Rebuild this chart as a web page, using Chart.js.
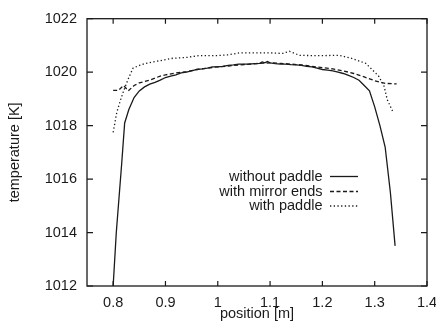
<!DOCTYPE html>
<html>
<head>
<meta charset="utf-8">
<script src="https://cdn.jsdelivr.net/npm/chart.js@4/dist/chart.umd.min.js"></script>
<style>
  html, body { margin: 0; padding: 0; background: #fff; }
  #wrap { width: 436px; height: 323px; position: relative; }
</style>
</head>
<body>
<div id="wrap"><canvas id="c" width="436" height="323"></canvas></div>
<script>
// ---- data ----
const seriesLabels = ["without paddle", "with mirror ends", "with paddle"];

const noPaddleX = [0.800, 0.806, 0.816, 0.822, 0.830, 0.840, 0.850, 0.860, 0.870, 0.880, 0.890, 0.900, 0.910, 0.920, 0.930, 0.940, 0.950, 0.960, 0.970, 0.980, 0.990, 1.000, 1.010, 1.020, 1.030, 1.040, 1.050, 1.060, 1.070, 1.080, 1.085, 1.090, 1.095, 1.100, 1.110, 1.120, 1.130, 1.140, 1.150, 1.160, 1.170, 1.180, 1.190, 1.200, 1.210, 1.220, 1.230, 1.240, 1.250, 1.260, 1.270, 1.280, 1.290, 1.300, 1.310, 1.320, 1.330, 1.339];
const noPaddleY = [1012.0, 1014.0, 1016.5, 1018.1, 1018.6, 1019.05, 1019.3, 1019.45, 1019.55, 1019.62, 1019.7, 1019.8, 1019.85, 1019.9, 1019.97, 1020.0, 1020.05, 1020.1, 1020.12, 1020.15, 1020.2, 1020.2, 1020.22, 1020.25, 1020.27, 1020.3, 1020.3, 1020.3, 1020.32, 1020.33, 1020.38, 1020.35, 1020.4, 1020.35, 1020.32, 1020.3, 1020.3, 1020.28, 1020.27, 1020.25, 1020.22, 1020.2, 1020.15, 1020.1, 1020.08, 1020.05, 1020.0, 1019.95, 1019.88, 1019.8, 1019.7, 1019.5, 1019.3, 1018.7, 1018.0, 1017.2, 1015.5, 1013.5];

const mirrorX = [0.800, 0.810, 0.820, 0.829, 0.840, 0.850, 0.860, 0.870, 0.880, 0.890, 0.900, 0.920, 0.940, 0.960, 0.980, 1.000, 1.020, 1.040, 1.060, 1.080, 1.100, 1.120, 1.140, 1.160, 1.180, 1.200, 1.220, 1.240, 1.260, 1.280, 1.300, 1.320, 1.342];
const mirrorY = [1019.32, 1019.32, 1019.5, 1019.3, 1019.5, 1019.6, 1019.65, 1019.7, 1019.78, 1019.85, 1019.9, 1019.97, 1020.02, 1020.1, 1020.15, 1020.2, 1020.23, 1020.27, 1020.3, 1020.33, 1020.35, 1020.33, 1020.3, 1020.27, 1020.22, 1020.17, 1020.12, 1020.05, 1019.95, 1019.82, 1019.68, 1019.58, 1019.56];

const paddleX = [0.800, 0.807, 0.814, 0.820, 0.830, 0.838, 0.850, 0.860, 0.875, 0.890, 0.914, 0.940, 0.965, 1.000, 1.020, 1.041, 1.070, 1.100, 1.124, 1.137, 1.156, 1.180, 1.200, 1.232, 1.257, 1.283, 1.302, 1.308, 1.318, 1.324, 1.334];
const paddleY = [1017.75, 1018.5, 1018.95, 1019.3, 1019.8, 1020.15, 1020.25, 1020.32, 1020.38, 1020.43, 1020.52, 1020.55, 1020.62, 1020.62, 1020.65, 1020.72, 1020.72, 1020.72, 1020.7, 1020.78, 1020.63, 1020.62, 1020.62, 1020.63, 1020.51, 1020.33, 1019.96, 1019.84, 1019.47, 1018.97, 1018.55];

const xTicks = [0.8, 0.9, 1, 1.1, 1.2, 1.3, 1.4];
const yTicks = [1012, 1014, 1016, 1018, 1020, 1022];

// ---- chart ----
const FONT = "'Liberation Sans', Arial, Helvetica, sans-serif";
const INK = '#1a1a1a';
const toPts = (xs, ys) => xs.map((x, i) => ({ x: x, y: ys[i] }));
const dashes = [[], [4, 2.5], [1.3, 2.4]];

const frame = {
  id: 'frame',
  afterDraw(chart) {
    const { ctx, chartArea: a, scales } = chart;
    ctx.save();
    ctx.strokeStyle = INK;
    ctx.lineWidth = 1.3;
    ctx.setLineDash([]);
    ctx.strokeRect(a.left, a.top, a.right - a.left, a.bottom - a.top);
    ctx.lineWidth = 1.2;
    const tl = 5;
    ctx.beginPath();
    scales.x.ticks.forEach((t, i) => {
      const px = scales.x.getPixelForTick(i);
      ctx.moveTo(px, a.bottom); ctx.lineTo(px, a.bottom - tl);
      ctx.moveTo(px, a.top); ctx.lineTo(px, a.top + tl);
    });
    scales.y.ticks.forEach((t, i) => {
      const py = scales.y.getPixelForTick(i);
      ctx.moveTo(a.left, py); ctx.lineTo(a.left + tl + 1, py);
      ctx.moveTo(a.right, py); ctx.lineTo(a.right - tl - 1, py);
    });
    ctx.stroke();

    // legend
    const lx = 322.5, lineX0 = 330, lineX1 = 358, rows = [176.5, 191.5, 206];
    ctx.font = '14.5px ' + FONT;
    ctx.fillStyle = INK;
    ctx.textAlign = 'right';
    ctx.textBaseline = 'middle';
    chart.data.datasets.forEach((ds, i) => {
      ctx.fillText(ds.label, lx, rows[i]);
      ctx.beginPath();
      ctx.setLineDash(ds.borderDash || []);
      ctx.lineWidth = 1.3;
      ctx.moveTo(lineX0, rows[i]); ctx.lineTo(lineX1, rows[i]);
      ctx.stroke();
    });
    ctx.restore();
  }
};

new Chart(document.getElementById('c'), {
  type: 'line',
  data: {
    datasets: [
      { label: seriesLabels[0], data: toPts(noPaddleX, noPaddleY), borderDash: dashes[0] },
      { label: seriesLabels[1], data: toPts(mirrorX, mirrorY), borderDash: dashes[1] },
      { label: seriesLabels[2], data: toPts(paddleX, paddleY), borderDash: dashes[2] }
    ].map(d => Object.assign(d, {
      borderColor: INK, borderWidth: 1.3, pointRadius: 0, tension: 0, fill: false
    }))
  },
  options: {
    responsive: false,
    animation: false,
    events: [],
    layout: { padding: { left: 0, right: 9, top: 14, bottom: 0 } },
    plugins: { legend: { display: false }, tooltip: { enabled: false } },
    scales: {
      x: {
        type: 'linear', min: 0.75, max: 1.4,
        grid: { display: false, drawTicks: false },
        border: { display: false },
        afterBuildTicks: s => { s.ticks = xTicks.map(v => ({ value: v })); },
        afterFit: s => { s.height = 37; s.paddingRight = 9; s.paddingLeft = 0; },
        ticks: { color: INK, font: { family: FONT, size: 14.5 }, padding: 8, maxRotation: 0, autoSkip: false,
                 callback: v => String(v) },
        title: { display: true, text: 'position [m]', color: INK, font: { family: FONT, size: 14.5 }, padding: { top: 0, bottom: 0 } }
      },
      y: {
        type: 'linear', min: 1012, max: 1022,
        grid: { display: false, drawTicks: false },
        border: { display: false },
        afterBuildTicks: s => { s.ticks = yTicks.map(v => ({ value: v })); },
        afterFit: s => { s.width = 87; },
        ticks: { color: INK, font: { family: FONT, size: 14.5 }, padding: 10, callback: v => String(v) },
        title: { display: true, text: 'temperature [K]', color: INK, font: { family: FONT, size: 14.5 }, padding: { top: 6, bottom: 0 } }
      }
    }
  },
  plugins: [frame]
});
</script>
</body>
</html>
